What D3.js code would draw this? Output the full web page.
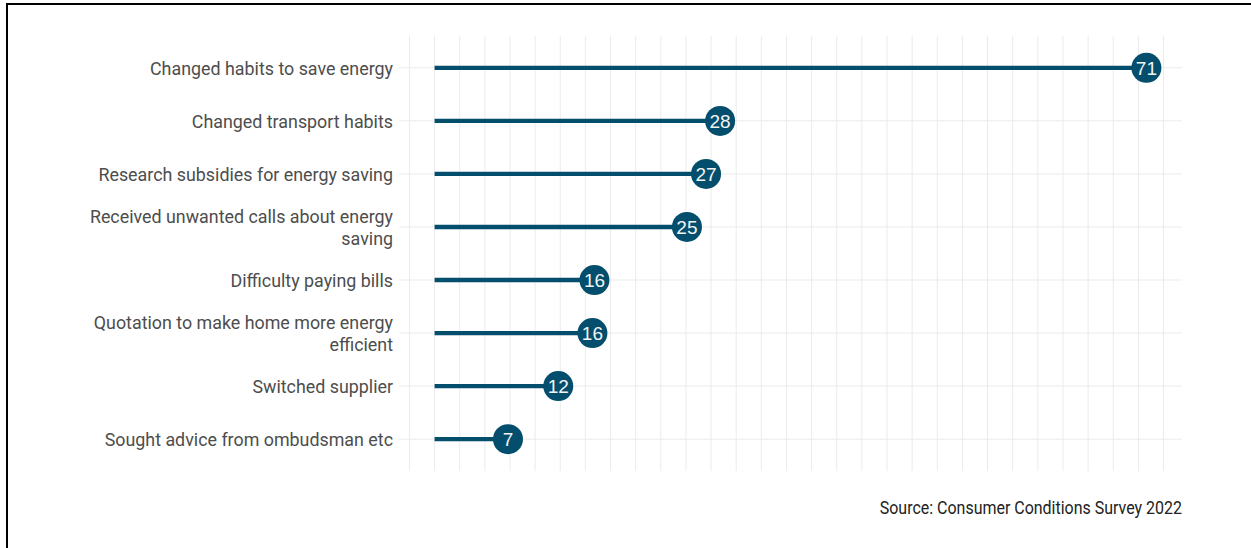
<!DOCTYPE html>
<html>
<head>
<meta charset="utf-8">
<script src="https://cdn.jsdelivr.net/npm/d3@7"></script>
<style>
  html, body { margin: 0; padding: 0; background: #fff; }
  svg { display: block; }
</style>
</head>
<body>
<svg id="chart" width="1251" height="548"></svg>
<script>
// ---- data ----
const categories = [
  "Changed habits to save energy",
  "Changed transport habits",
  "Research subsidies for energy saving",
  "Received unwanted calls about energy\nsaving",
  "Difficulty paying bills",
  "Quotation to make home more energy\nefficient",
  "Switched supplier",
  "Sought advice from ombudsman etc"
];
const values = [70.8, 28.4, 27.0, 25.1, 15.9, 15.7, 12.3, 7.3];
const gridBreaks = [-2.5, 0, 2.5, 5, 7.5, 10, 12.5, 15, 17.5, 20, 22.5, 25, 27.5, 30, 32.5, 35,
  37.5, 40, 42.5, 45, 47.5, 50, 52.5, 55, 57.5, 60, 62.5, 65, 67.5, 70, 72.5];
const caption = "Source: Consumer Conditions Survey 2022";

// ---- layout ----
const W = 1251, H = 548;
const panel = { left: 399, right: 1182, top: 36, bottom: 471 };
const dotColor = "#034e6c";
const labelSize = 18.5;
const condense = 0.893 * 20 / labelSize;
const capCondense = 0.893;
const svg = d3.select("#chart");

const maxV = d3.max(values);
const pad = maxV * 0.05;
const x = d3.scaleLinear().domain([-pad, maxV + pad]).range([panel.left, panel.right]);
const y = d3.scalePoint().domain(categories).range([panel.top, panel.bottom]).padding(0.6);

// border (top + left)
svg.append("line").attr("x1", 6).attr("x2", W).attr("y1", 4).attr("y2", 4)
  .attr("stroke", "#000").attr("stroke-width", 2);
svg.append("line").attr("x1", 7).attr("x2", 7).attr("y1", 3).attr("y2", H)
  .attr("stroke", "#000").attr("stroke-width", 2);

// gridlines
const grid = svg.append("g");
grid.selectAll("line.v").data(gridBreaks).join("line")
  .attr("class", "v")
  .attr("x1", d => x(d)).attr("x2", d => x(d))
  .attr("y1", panel.top).attr("y2", panel.bottom)
  .attr("stroke", "#ebebeb").attr("stroke-width", 1);
grid.selectAll("line.h").data(categories).join("line")
  .attr("class", "h")
  .attr("x1", panel.left).attr("x2", panel.right)
  .attr("y1", d => y(d)).attr("y2", d => y(d))
  .attr("stroke", "#ebebeb").attr("stroke-width", 1);

// y axis labels
const yAxis = d3.axisLeft(y).tickSize(0).tickPadding(6).tickFormat(() => "");
const ya = svg.append("g").attr("transform", `translate(${panel.left},0)`).call(yAxis);
ya.select(".domain").remove();
ya.selectAll(".tick").each(function(d) {
  const lines = d.split("\n");
  const t = d3.select(this).select("text")
    .attr("font-family", "Roboto, sans-serif")
    .attr("font-size", labelSize)
    .attr("fill", "#4d4d4d")
    .attr("x", -6 / condense)
    .attr("text-anchor", "end")
    .attr("dy", null)
    .attr("transform", `scale(${condense},1)`);
  const lh = 21.5;
  const y0 = -((lines.length - 1) * lh) / 2;
  lines.forEach((ln, i) => {
    t.append("tspan").attr("x", -6 / condense).attr("y", y0 + i * lh).attr("dy", "0.35em").text(ln);
  });
});

// lollipops
const data = categories.map((c, i) => ({ c, v: values[i] }));
svg.append("g").selectAll("line").data(data).join("line")
  .attr("x1", x(0)).attr("x2", d => x(d.v))
  .attr("y1", d => y(d.c)).attr("y2", d => y(d.c))
  .attr("stroke", dotColor).attr("stroke-width", 4.3);
svg.append("g").selectAll("circle").data(data).join("circle")
  .attr("cx", d => x(d.v)).attr("cy", d => y(d.c)).attr("r", 15)
  .attr("fill", dotColor);
svg.append("g").selectAll("text").data(data).join("text")
  .attr("x", d => x(d.v)).attr("y", d => y(d.c)).attr("dy", "0.36em")
  .attr("text-anchor", "middle")
  .attr("font-family", "Liberation Sans, Arial, sans-serif")
  .attr("font-size", 19)
  .attr("fill", "#f4f4f4")
  .text(d => d3.format(".0f")(d.v));

// caption
svg.append("text")
  .attr("transform", `scale(${capCondense},1)`)
  .attr("x", panel.right / capCondense).attr("y", 508).attr("dy", "0.35em")
  .attr("text-anchor", "end")
  .attr("font-family", "Roboto, sans-serif")
  .attr("font-size", 17.9)
  .attr("fill", "#222")
  .text(caption);
</script>
</body>
</html>
